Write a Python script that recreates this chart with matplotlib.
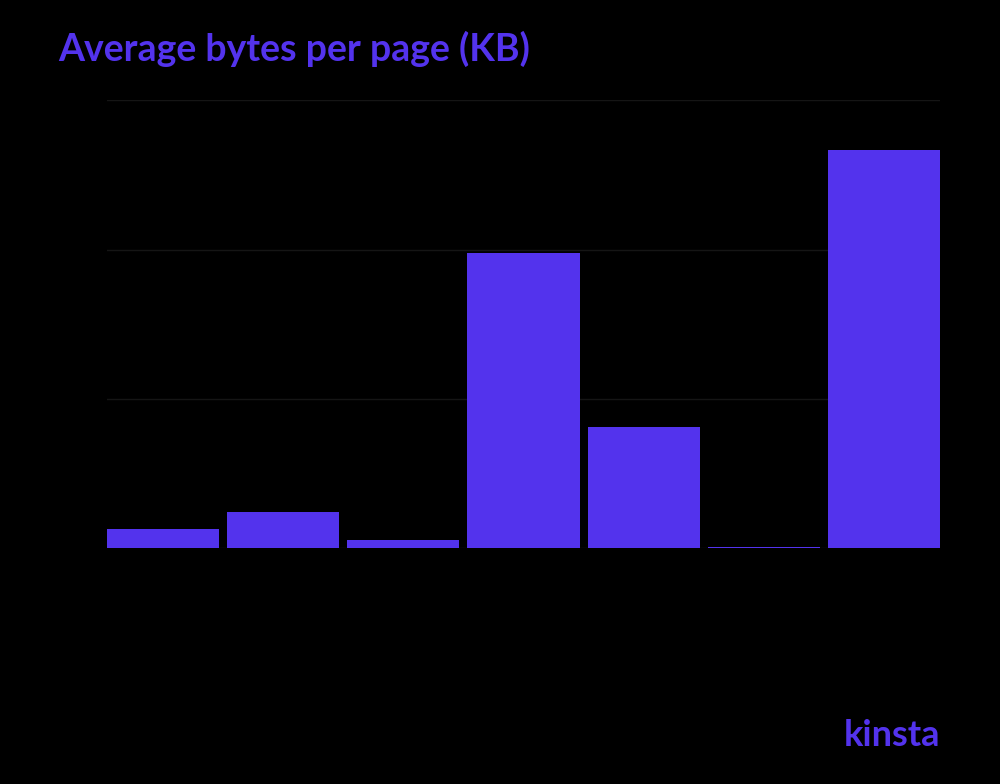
import matplotlib
matplotlib.use("Agg")
import matplotlib.pyplot as plt

# values in KB (assumed 500 KB per gridline)
categories = ["HTML", "CSS", "Fonts", "Images", "JavaScript", "Video", "Total"]
values = [64, 121, 27, 990, 406, 4, 1332]
yticks = [0, 500, 1000, 1500]

purple = "#5333ED"

fig = plt.figure(figsize=(10, 7.84), dpi=100, facecolor="black")
ax = fig.add_axes([0.107, 0.301, 0.833, 0.571], facecolor="black")

ax.bar(range(len(categories)), values, width=0.933, color=purple, zorder=3)
ax.set_xlim(-0.467, len(categories) - 0.533)
ax.set_ylim(0, 1500)
ax.set_yticks(yticks)
ax.grid(axis="y", color="#151515", linewidth=1, zorder=0)
ax.set_xticks(range(len(categories)))
ax.set_xticklabels(categories, color="black")
ax.tick_params(colors="black", length=0, labelcolor="black")
for s in ax.spines.values():
    s.set_visible(False)

fig.text(0.058, 0.938, "Average bytes per page (KB)", color=purple,
         fontsize=27, fontweight="bold", family="Lato", va="center")
fig.text(0.94, 0.062, "kinsta", color=purple, fontsize=26, fontweight="bold",
         family="Lato", ha="right", va="center")

fig.savefig("out.png", dpi=100, facecolor="black")
